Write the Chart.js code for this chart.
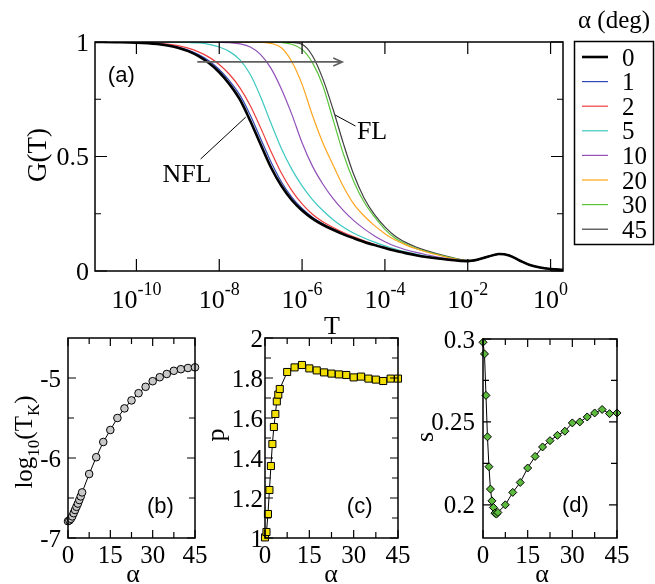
<!DOCTYPE html>
<html>
<head>
<meta charset="utf-8">
<script src="https://cdn.jsdelivr.net/npm/chart.js@4.4.1/dist/chart.umd.min.js"></script>
<style>
  body { margin: 0; background: #fff; }
  #wrap { position: relative; width: 655px; height: 584px; }
  #wrap canvas { position: absolute; left: 0; top: 0; }
  .preload { position: absolute; left: -9999px; top: 0; }
</style>
</head>
<body>
<div id="wrap">
  <canvas id="chart-a" width="655" height="584"></canvas>
  <canvas id="chart-b" width="655" height="584"></canvas>
  <canvas id="chart-c" width="655" height="584"></canvas>
  <canvas id="chart-d" width="655" height="584"></canvas>
</div>
<span class="preload" style="font-family:'Liberation Serif'">α (deg) 0123456789</span>
<span class="preload" style="font-family:'Liberation Sans'">(abcd)</span>
<script>
// ---- panel (a): G(T) against log10(T), one curve per angle
const logT = [-11, -10.5, -10, -9.5, -9.25, -9, -8.75, -8.5, -8.25, -8, -7.75, -7.5, -7.25, -7,
  -6.75, -6.5, -6.25, -6, -5.75, -5.5, -5.25, -5, -4.75, -4.5, -4.25, -4, -3.75, -3.5, -3.25, -3,
  -2.5, -2, -1.75, -1.5, -1.25, -1, -0.75, -0.5, -0.25, 0, 0.3];

const g0 = [1.000, 0.999, 0.997, 0.991, 0.985, 0.975, 0.960, 0.938, 0.908, 0.868, 0.815, 0.748, 0.655, 0.552,
  0.452, 0.372, 0.310, 0.264, 0.229, 0.202, 0.180, 0.160, 0.143, 0.127, 0.113, 0.100, 0.088, 0.078, 0.069, 0.061,
  0.050, 0.043, 0.050, 0.063, 0.074, 0.068, 0.046, 0.026, 0.015, 0.009, 0.005];
const g1 = [1.000, 0.999, 0.998, 0.992, 0.987, 0.978, 0.965, 0.945, 0.918, 0.880, 0.830, 0.768, 0.680, 0.578,
  0.476, 0.390, 0.323, 0.273, 0.235, 0.206, 0.183, 0.162, 0.145, 0.129, 0.114, 0.101, 0.089, 0.079, 0.070, 0.062,
  0.050, 0.043, 0.050, 0.063, 0.074, 0.068, 0.046, 0.026, 0.015, 0.009, 0.005];
const g2 = [1.000, 1.000, 0.999, 0.995, 0.991, 0.984, 0.973, 0.957, 0.934, 0.902, 0.858, 0.800, 0.722, 0.625,
  0.522, 0.428, 0.352, 0.293, 0.248, 0.215, 0.190, 0.168, 0.149, 0.132, 0.117, 0.103, 0.090, 0.080, 0.070, 0.062,
  0.050, 0.043, 0.050, 0.063, 0.074, 0.068, 0.046, 0.026, 0.015, 0.009, 0.005];
const g5 = [1.000, 1.000, 1.000, 1.000, 0.999, 0.999, 0.998, 0.996, 0.990, 0.978, 0.958, 0.922, 0.858, 0.760,
  0.645, 0.535, 0.445, 0.372, 0.312, 0.264, 0.224, 0.191, 0.165, 0.144, 0.126, 0.110, 0.096, 0.084, 0.074, 0.065,
  0.051, 0.043, 0.050, 0.063, 0.074, 0.068, 0.046, 0.026, 0.015, 0.009, 0.005];
const g10 = [1.000, 1.000, 1.000, 1.000, 1.000, 1.000, 1.000, 1.000, 1.000, 0.999, 0.997, 0.992, 0.978, 0.945,
  0.885, 0.795, 0.685, 0.560, 0.458, 0.380, 0.316, 0.264, 0.220, 0.184, 0.153, 0.128, 0.108, 0.093, 0.081, 0.071,
  0.054, 0.044, 0.050, 0.063, 0.074, 0.068, 0.046, 0.026, 0.015, 0.009, 0.005];
const g20 = [1.000, 1.000, 1.000, 1.000, 1.000, 1.000, 1.000, 1.000, 1.000, 1.000, 1.000, 1.000, 1.000, 0.999,
  0.994, 0.975, 0.915, 0.815, 0.680, 0.560, 0.462, 0.368, 0.292, 0.240, 0.198, 0.163, 0.135, 0.114, 0.097, 0.083,
  0.060, 0.045, 0.051, 0.064, 0.074, 0.068, 0.046, 0.026, 0.015, 0.009, 0.005];
const g30 = [1.000, 1.000, 1.000, 1.000, 1.000, 1.000, 1.000, 1.000, 1.000, 1.000, 1.000, 1.000, 1.000, 1.000,
  1.000, 0.998, 0.990, 0.968, 0.910, 0.810, 0.660, 0.510, 0.390, 0.300, 0.236, 0.182, 0.143, 0.118, 0.099, 0.085,
  0.062, 0.045, 0.051, 0.064, 0.074, 0.068, 0.046, 0.026, 0.015, 0.009, 0.005];
const g45 = [1.000, 1.000, 1.000, 1.000, 1.000, 1.000, 1.000, 1.000, 1.000, 1.000, 1.000, 1.000, 1.000, 1.000,
  1.000, 1.000, 0.998, 0.990, 0.940, 0.840, 0.705, 0.555, 0.420, 0.318, 0.246, 0.193, 0.152, 0.125, 0.105, 0.089,
  0.064, 0.046, 0.051, 0.064, 0.074, 0.068, 0.046, 0.026, 0.015, 0.009, 0.005];

const alphaDeg = ['0', '1', '2', '5', '10', '20', '30', '45'];
const curves = [g0, g1, g2, g5, g10, g20, g30, g45];
const lineColors = ['#000000', '#3446b4', '#f03c3c', '#3cc8c0', '#9050b8', '#ffa51e', '#5ac43c', '#404040'];

const aXTicks = [-10, -8, -6, -4, -2, 0];
const aXExp = ['-10', '-8', '-6', '-4', '-2', '0'];
const aYTicks = [0, 0.5, 1];
const aYLabels = ['0', '0.5', '1'];
const aYMinor = [0.25, 0.75];

// ---- panels (b), (c), (d): fitted parameters against alpha
const alpha = [0, 0.5, 1, 1.5, 2, 2.5, 3, 3.5, 4, 4.5, 5, 7.5, 10, 12.5, 15, 17.5, 20, 22.5, 25,
  27.5, 30, 32.5, 35, 37.5, 40, 42.5, 45];
const logTK = [-6.79, -6.78, -6.76, -6.73, -6.69, -6.65, -6.61, -6.57, -6.525, -6.48, -6.43, -6.20, -5.99,
  -5.80, -5.65, -5.50, -5.38, -5.28, -5.19, -5.11, -5.04, -4.99, -4.95, -4.91, -4.89, -4.875, -4.867];
const pExp = [1.003, 1.03, 1.12, 1.24, 1.36, 1.47, 1.555, 1.62, 1.683, 1.717, 1.745, 1.83, 1.853,
  1.865, 1.848, 1.838, 1.828, 1.822, 1.818, 1.815, 1.803, 1.807, 1.797, 1.792, 1.785, 1.797, 1.797];
const sExp = [0.298, 0.291, 0.266, 0.241, 0.223, 0.2095, 0.2024, 0.1984, 0.195, 0.1944, 0.1954, 0.200, 0.2075,
  0.2135, 0.2222, 0.2292, 0.2349, 0.2387, 0.2419, 0.2444, 0.2494, 0.250, 0.253, 0.2554, 0.2575, 0.255, 0.2554];

const alphaTicks = [0, 15, 30, 45];
const alphaLabels = ['0', '15', '30', '45'];
const alphaMinor = [7.5, 22.5, 37.5];

const SERIF = '"Liberation Serif", "DejaVu Serif", serif';
const SANS = '"Liberation Sans", "DejaVu Sans", sans-serif';

// text with sub (s:1) / superscript (s:2) parts, centred on cx,cy
function drawRich(ctx, parts, cx, cy, size, rot) {
  const small = Math.round(size * 0.68);
  let total = 0;
  const w = parts.map(p => {
    ctx.font = (p.s ? small : size) + 'px ' + SERIF;
    const m = ctx.measureText(p.t).width;
    total += m;
    return m;
  });
  ctx.save();
  ctx.translate(cx, cy);
  if (rot) ctx.rotate(-Math.PI / 2);
  ctx.textAlign = 'left';
  ctx.textBaseline = 'alphabetic';
  let px = -total / 2;
  parts.forEach((p, i) => {
    ctx.font = (p.s ? small : size) + 'px ' + SERIF;
    const dy = p.s === 1 ? size * 0.28 : p.s === 2 ? -size * 0.5 : 0;
    ctx.fillText(p.t, px, size * 0.34 + dy);
    px += w[i];
  });
  ctx.restore();
}

// xmgrace-like box: frame, inward ticks on all four sides, labels, titles
function makeFrame(f) {
  return {
    id: 'frame',
    afterDatasetsDraw(chart) {
      const ctx = chart.ctx, a = chart.chartArea, x = chart.scales.x, y = chart.scales.y;
      ctx.save();
      ctx.strokeStyle = '#000';
      ctx.lineWidth = 1.2;
      ctx.beginPath();
      const xt = (v, len) => {
        const px = x.getPixelForValue(v);
        ctx.moveTo(px, a.bottom); ctx.lineTo(px, a.bottom - len);
        ctx.moveTo(px, a.top); ctx.lineTo(px, a.top + len);
      };
      const yt = (v, len) => {
        const py = y.getPixelForValue(v);
        ctx.moveTo(a.left, py); ctx.lineTo(a.left + len, py);
        ctx.moveTo(a.right, py); ctx.lineTo(a.right - len, py);
      };
      f.xMajor.forEach(v => xt(v, f.major));
      (f.xMinor || []).forEach(v => xt(v, f.minor));
      f.yMajor.forEach(v => yt(v, f.major));
      (f.yMinor || []).forEach(v => yt(v, f.minor));
      ctx.stroke();
      ctx.lineWidth = 1.5;
      ctx.strokeRect(a.left, a.top, a.right - a.left, a.bottom - a.top);

      ctx.fillStyle = '#000';
      ctx.font = f.size + 'px ' + SERIF;
      ctx.textBaseline = 'alphabetic';
      if (f.xLabels) {
        ctx.textAlign = 'center';
        f.xLabels.forEach((t, i) => ctx.fillText(t, x.getPixelForValue(f.xMajor[i]), f.xLabelY));
      }
      if (f.xRich) {
        f.xRich.forEach((parts, i) => drawRich(ctx, parts, x.getPixelForValue(f.xMajor[i]), f.xLabelY, f.size, false));
      }
      ctx.textAlign = 'right';
      ctx.font = f.size + 'px ' + SERIF;
      f.yLabels.forEach((t, i) => ctx.fillText(t, f.yLabelX, y.getPixelForValue(f.yMajor[i]) + f.size * 0.34));
      f.titles.forEach(t => drawRich(ctx, t.parts, t.x, t.y, t.size, t.rot));
      if (f.tag) {
        ctx.font = '22px ' + SANS;
        ctx.textAlign = 'left';
        ctx.fillText(f.tag.text, x.getPixelForValue(f.tag.x), y.getPixelForValue(f.tag.y) + 22 * 0.27);
      }
      ctx.restore();
    }
  };
}

function panelChart(id, datasets, xr, yr, pad, frame, extra) {
  return new Chart(document.getElementById(id), {
    type: 'line',
    data: { datasets: datasets },
    options: {
      responsive: false,
      animation: false,
      events: [],
      layout: { padding: pad },
      plugins: { legend: { display: false }, tooltip: { enabled: false } },
      scales: {
        x: { type: 'linear', min: xr[0], max: xr[1], display: false },
        y: { type: 'linear', min: yr[0], max: yr[1], display: false }
      }
    },
    plugins: [makeFrame(frame)].concat(extra || [])
  });
}

// legend box to the right of panel (a)
const alphaLegend = {
  id: 'alphaLegend',
  afterDraw(chart) {
    const ctx = chart.ctx;
    ctx.save();
    ctx.fillStyle = '#000';
    ctx.font = '25px ' + SERIF;
    ctx.textAlign = 'center';
    ctx.textBaseline = 'alphabetic';
    ctx.fillText('α (deg)', 614, 28);
    ctx.strokeStyle = '#000';
    ctx.lineWidth = 1.5;
    ctx.strokeRect(574.5, 41.5, 79, 203);
    ctx.textAlign = 'left';
    chart.data.datasets.forEach((ds, i) => {
      const yy = 57 + i * 24.6;
      ctx.strokeStyle = ds.borderColor;
      ctx.lineWidth = ds.borderWidth;
      ctx.beginPath(); ctx.moveTo(582, yy); ctx.lineTo(608, yy); ctx.stroke();
      ctx.fillText(ds.label, 622, yy + 25 * 0.34);
    });
    ctx.restore();
  }
};

// arrow, NFL / FL labels and (a)
const notesA = {
  id: 'notesA',
  afterDatasetsDraw(chart) {
    const ctx = chart.ctx, X = v => chart.scales.x.getPixelForValue(v), Y = v => chart.scales.y.getPixelForValue(v);
    ctx.save();
    ctx.strokeStyle = '#606060';
    ctx.lineWidth = 1.6;
    ctx.beginPath();
    const ay = Y(0.913), x1 = X(-8.53), x2 = X(-5.03);
    ctx.moveTo(x1, ay); ctx.lineTo(x2, ay);
    ctx.moveTo(x2 - 9, ay - 4); ctx.lineTo(x2, ay); ctx.lineTo(x2 - 9, ay + 4);
    ctx.stroke();
    ctx.strokeStyle = '#000';
    ctx.lineWidth = 1;
    ctx.beginPath();
    ctx.moveTo(X(-8.45), Y(0.489)); ctx.lineTo(X(-7.36), Y(0.672));
    ctx.moveTo(X(-5.20), Y(0.681)); ctx.lineTo(X(-4.71), Y(0.633));
    ctx.stroke();
    ctx.fillStyle = '#000';
    ctx.font = '26px ' + SERIF;
    ctx.textAlign = 'center';
    ctx.textBaseline = 'alphabetic';
    ctx.fillText('NFL', X(-8.78), Y(0.424) + 26 * 0.33);
    ctx.fillText('FL', X(-4.31), Y(0.616) + 26 * 0.33);
    ctx.font = '22px ' + SANS;
    ctx.textAlign = 'left';
    ctx.fillText('(a)', X(-10.69), Y(0.852) + 22 * 0.27);
    ctx.restore();
  }
};

function drawAll() {
  panelChart('chart-a',
    alphaDeg.map((lab, i) => ({
      label: lab,
      data: logT.map((t, j) => ({ x: t, y: curves[i][j] })),
      borderColor: lineColors[i],
      borderWidth: i === 0 ? 2.6 : 1.2,
      pointRadius: 0,
      cubicInterpolationMode: 'monotone'
    })),
    [-11, 0.3], [0, 1],
    { left: 95, top: 42, right: 92, bottom: 313 },
    {
      xMajor: aXTicks, yMajor: aYTicks, yMinor: aYMinor, major: 12, minor: 6, size: 26,
      xRich: aXExp.map(e => [{ t: '10' }, { t: e, s: 2 }]), xLabelY: 299,
      yLabels: aYLabels, yLabelX: 89,
      titles: [
        { parts: [{ t: 'G(T)' }], x: 37, y: 155, size: 27, rot: true },
        { parts: [{ t: 'T' }], x: 332, y: 325, size: 26 }
      ]
    },
    [notesA, alphaLegend]);

  const markerLine = { borderColor: '#000', borderWidth: 1, pointBorderColor: '#000', pointBorderWidth: 1, clip: false, tension: 0 };

  panelChart('chart-b',
    [Object.assign({
      data: alpha.map((a, i) => ({ x: a, y: logTK[i] })),
      pointStyle: 'circle', pointRadius: 3.8, pointBackgroundColor: '#c8c8c8'
    }, markerLine)],
    [0, 45], [-7, -4.5],
    { left: 68, top: 338, right: 460, bottom: 46 },
    {
      xMajor: alphaTicks, xMinor: alphaMinor, yMajor: [-7, -6, -5], yMinor: [-6.5, -5.5], major: 8, minor: 6, size: 25,
      xLabels: alphaLabels, xLabelY: 563, yLabels: ['-7', '-6', '-5'], yLabelX: 61,
      titles: [
        { parts: [{ t: 'log' }, { t: '10', s: 1 }, { t: '(T' }, { t: 'K', s: 1 }, { t: ')' }], x: 23, y: 442, size: 25, rot: true },
        { parts: [{ t: 'α' }], x: 133, y: 573, size: 26 }
      ],
      tag: { text: '(b)', x: 28, y: -6.61 }
    });

  panelChart('chart-c',
    [Object.assign({
      data: alpha.map((a, i) => ({ x: a, y: pExp[i] })),
      pointStyle: 'rect', pointRadius: 5, pointBackgroundColor: '#f2df00'
    }, markerLine)],
    [0, 45], [1, 2],
    { left: 265, top: 338, right: 257, bottom: 46 },
    {
      xMajor: alphaTicks, xMinor: alphaMinor, yMajor: [1, 1.2, 1.4, 1.6, 1.8, 2], yMinor: [1.1, 1.3, 1.5, 1.7, 1.9],
      major: 8, minor: 6, size: 25,
      xLabels: alphaLabels, xLabelY: 563, yLabels: ['1', '1.2', '1.4', '1.6', '1.8', '2'], yLabelX: 263,
      titles: [
        { parts: [{ t: 'p' }], x: 215, y: 435, size: 26, rot: true },
        { parts: [{ t: 'α' }], x: 331, y: 573, size: 26 }
      ],
      tag: { text: '(c)', x: 27.7, y: 1.155 }
    });

  panelChart('chart-d',
    [Object.assign({
      data: alpha.map((a, i) => ({ x: a, y: sExp[i] })),
      pointStyle: 'rectRot', pointRadius: 4, pointBackgroundColor: '#5cba3c'
    }, markerLine)],
    [0, 45], [0.18, 0.30],
    { left: 483, top: 339, right: 38, bottom: 46 },
    {
      xMajor: alphaTicks, xMinor: alphaMinor, yMajor: [0.2, 0.25, 0.3], yMinor: [0.225, 0.275], major: 8, minor: 6, size: 25,
      xLabels: alphaLabels, xLabelY: 563, yLabels: ['0.2', '0.25', '0.3'], yLabelX: 475,
      titles: [
        { parts: [{ t: 's' }], x: 424, y: 437, size: 26, rot: true },
        { parts: [{ t: 'α' }], x: 542, y: 573, size: 26 }
      ],
      tag: { text: '(d)', x: 26.5, y: 0.1993 }
    });
}

Promise.all([
  document.fonts.load('26px "Liberation Serif"'),
  document.fonts.load('22px "Liberation Sans"')
]).then(drawAll, drawAll);
</script>
</body>
</html>
